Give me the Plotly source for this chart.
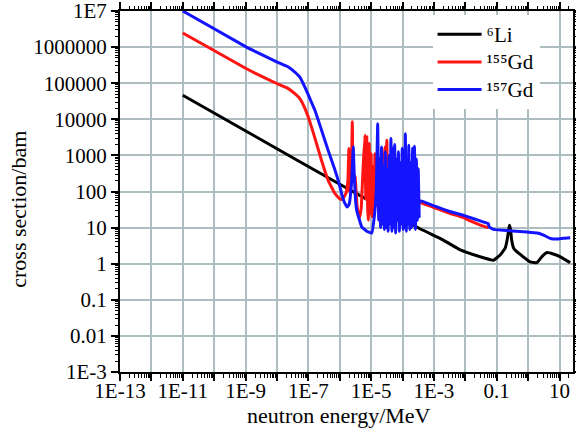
import plotly.graph_objects as go

# ---------------- data ----------------
# 6Li total cross section
li6_energy = [1e-11, 2.0e-9, 9.1e-7, 3.6e-4, 2.0e-3, 6.9e-3, 2.34e-2, 7.9e-2, 0.129, 0.186,
              0.219, 0.240, 0.255, 0.275, 0.300, 0.347, 0.50, 1.17, 1.9, 2.8, 4.0, 6.3, 10.7, 21.9]
li6_sigma = [4.62e4, 3390, 166, 9.3, 4.5, 2.4, 1.66, 1.25, 1.74, 2.69,
             5.0, 8.9, 11.7, 8.9, 4.5, 2.69, 1.95, 1.12, 1.07, 1.6, 2.04, 1.86, 1.55, 1.07]

# 155Gd total cross section
gd155_energy = [1e-11, 1.07e-9, 2.0e-9, 9.8e-9, 2.29e-8, 3.72e-8, 5.37e-8, 7.76e-8, 1.12e-7,
                1.82e-7, 2.63e-7, 4.27e-7, 7.08e-7, 1.0e-6, 1.20e-6, 1.58e-6, 1.82e-6, 1.95e-6,
                2.04e-6, 2.29e-6, 2.51e-6, 2.69e-6, 3.09e-6, 3.55e-6, 4.17e-6, 4.79e-6, 5.50e-6,
                6.31e-6, 6.76e-6, 7.24e-6, 7.76e-6, 8.13e-6, 8.71e-6, 9.33e-6, 1.0e-5, 1.07e-5,
                1.17e-5, 1.26e-5, 1.32e-5, 1.45e-5, 1.58e-5, 1.74e-5, 2.0e-5, 2.19e-5, 2.51e-5,
                2.75e-5, 2.95e-5, 3.16e-5, 3.39e-5, 3.55e-5, 3.98e-5, 6.31e-5, 1.58e-4, 3.63e-4,
                1.0e-3, 3.16e-3, 8.71e-3, 1.58e-2, 3.16e-2, 5.5e-2]
gd155_sigma = [2.45e6, 2.51e5, 1.91e5, 9.8e4, 7.08e4, 5.13e4, 3.72e4, 2.0e4, 8.5e3,
               2140, 724, 204, 87, 63, 60, 89, 200, 1550,
               100, 158, 8500, 316, 251, 40, 18, 32, 398,
               3630, 63, 3240, 32, 16, 2140, 25, 1120, 20,
               500, 25, 1120, 40, 400, 32, 794, 40, 316,
               1700, 50, 2630, 63, 550, 100, 89, 71, 50,
               36, 25, 19, 14.8, 11.5, 9.8]

# 157Gd total cross section
gd157_energy = [1e-11, 1.07e-9, 2.0e-9, 9.8e-9, 2.29e-8, 3.72e-8, 5.37e-8, 7.76e-8, 1.12e-7,
                1.62e-7, 2.63e-7, 4.27e-7, 7.08e-7, 8.91e-7, 1.15e-6, 1.41e-6, 1.74e-6, 2.0e-6,
                2.40e-6, 2.69e-6, 2.88e-6, 3.16e-6, 3.47e-6, 5.01e-6, 7.24e-6, 1.05e-5, 1.26e-5,
                1.45e-5, 1.62e-5, 1.74e-5, 1.86e-5, 2.0e-5, 2.14e-5, 2.29e-5, 2.45e-5, 2.63e-5,
                2.82e-5, 3.02e-5, 3.24e-5, 3.47e-5, 3.72e-5, 3.98e-5, 4.27e-5, 4.57e-5, 4.90e-5,
                5.25e-5, 5.62e-5, 6.03e-5, 6.46e-5, 6.92e-5, 7.41e-5, 7.94e-5, 8.51e-5, 9.12e-5,
                9.77e-5, 1.05e-4, 1.12e-4, 1.17e-4, 1.23e-4, 1.32e-4, 1.41e-4, 1.51e-4, 1.58e-4,
                1.70e-4, 1.82e-4, 1.95e-4, 2.09e-4, 2.24e-4, 2.40e-4, 2.57e-4, 2.75e-4, 2.95e-4,
                3.16e-4, 3.39e-4, 3.47e-4, 1.0e-3, 3.16e-3, 8.71e-3, 3.16e-2, 5.37e-2, 5.75e-2,
                7.94e-2, 0.316, 0.912, 2.0, 3.09, 5.13, 8.3, 13.5, 21.9]
gd157_sigma = [1.0e7, 1.0e6, 7.6e5, 3.89e5, 2.82e5, 2.04e5, 1.48e5, 7.76e4, 3.72e4,
               1.78e4, 5.0e3, 1380, 389, 204, 87, 50, 37, 45,
               200, 1700, 316, 63, 30, 10.5, 7.9, 7.1, 20,
               100, 7590, 16, 794, 10, 1700, 12.6, 500, 8.9,
               1260, 10, 400, 7.9, 1000, 12.6, 2950, 7.9, 1580,
               10, 2000, 7.1, 794, 16, 1260, 7.9, 630, 12.6,
               1580, 8.9, 1000, 10, 3980, 7.9, 794, 12.6, 1900,
               8.9, 630, 10, 1580, 12.6, 1780, 8.9, 794, 16,
               427, 20, 56, 40, 28, 21.9, 15.1, 12.9, 10.5,
               8.9, 8.1, 7.6, 7.1, 6.2, 5.0, 4.8, 5.1, 5.25]

series_names = ["⁶Li", "¹⁵⁵Gd", "¹⁵⁷Gd"]
series_colors = ["#000000", "#ff1414", "#1414ff"]

x_tick_values = [1e-13, 1e-12, 1e-11, 1e-10, 1e-9, 1e-8, 1e-7, 1e-6, 1e-5, 1e-4, 1e-3, 1e-2, 1e-1, 1, 10]
x_tick_labels = ["1E-13", " ", "1E-11", " ", "1E-9", " ", "1E-7", " ", "1E-5", " ", "1E-3", " ", "0.1", " ", "10"]
y_tick_values = [1e-3, 1e-2, 1e-1, 1, 10, 100, 1000, 1e4, 1e5, 1e6, 1e7]
y_tick_labels = ["1E-3", "0.01", "0.1", "1", "10", "100", "1000", "10000", "100000", "1000000", "1E7"]

# ---------------- figure ----------------
FONT = "Liberation Serif, Times New Roman, Times, serif"
fig = go.Figure()
for xs, ys, name, col in zip([li6_energy, gd155_energy, gd157_energy],
                             [li6_sigma, gd155_sigma, gd157_sigma],
                             series_names, series_colors):
    fig.add_trace(go.Scatter(x=xs, y=ys, mode="lines",
                             name="<span style='font-size:21px'>" + name + "</span>",
                             line=dict(color=col, width=3, shape="spline", smoothing=0.3)))

x_minor = [m * 10.0 ** d for d in range(-13, 2) for m in range(2, 10) if m * 10.0 ** d < 27]
y_minor = [m * 10.0 ** d for d in range(-3, 7) for m in range(2, 10)]

axis_common = dict(
    type="log", showline=True, linecolor="black", linewidth=2, mirror="ticks",
    ticks="outside", ticklen=7, tickwidth=1.5, tickcolor="black", automargin=False,
    showgrid=True, gridcolor="#adbdc1", gridwidth=1.5, zeroline=False,
    ticklabeloverflow="allow",
    tickfont=dict(family=FONT, size=21, color="black"),
)
fig.update_layout(
    width=576, height=434,
    margin=dict(l=120, r=3, t=11, b=62),
    paper_bgcolor="white", plot_bgcolor="white",
    font=dict(family=FONT, size=21, color="black"),
    xaxis=dict(range=[-13, 1.43], tickmode="array", tickvals=x_tick_values, ticktext=x_tick_labels,
               ticklabelstandoff=-8,
               minor=dict(tickmode="array", tickvals=x_minor, ticks="outside", ticklen=3.5,
                          tickwidth=1, tickcolor="black", showgrid=False),
               **axis_common),
    yaxis=dict(range=[-3.0003, 7.0003], tickmode="array", tickvals=y_tick_values, ticktext=y_tick_labels,
               minor=dict(tickmode="array", tickvals=y_minor, ticks="outside", ticklen=3.5,
                          tickwidth=1, tickcolor="black", showgrid=False),
               **axis_common),
    showlegend=True,
    legend=dict(x=0.69, y=0.988, xanchor="left", yanchor="top", bgcolor="white",
                borderwidth=0, font=dict(family=FONT, size=19), tracegroupgap=0,
                itemwidth=44),
    annotations=[
        dict(text="neutron energy/MeV", xref="paper", yref="paper", x=0.484, y=-0.12,
             xanchor="center", yanchor="middle", showarrow=False,
             font=dict(family=FONT, size=22)),
        dict(text="cross section/bam", xref="paper", yref="paper", x=-0.224, y=0.451,
             xanchor="center", yanchor="middle", textangle=-90, showarrow=False,
             font=dict(family=FONT, size=22)),
    ],
)
fig.write_html("out.html", config={"displayModeBar": False},
               post_script="document.body.style.margin='0px';")
